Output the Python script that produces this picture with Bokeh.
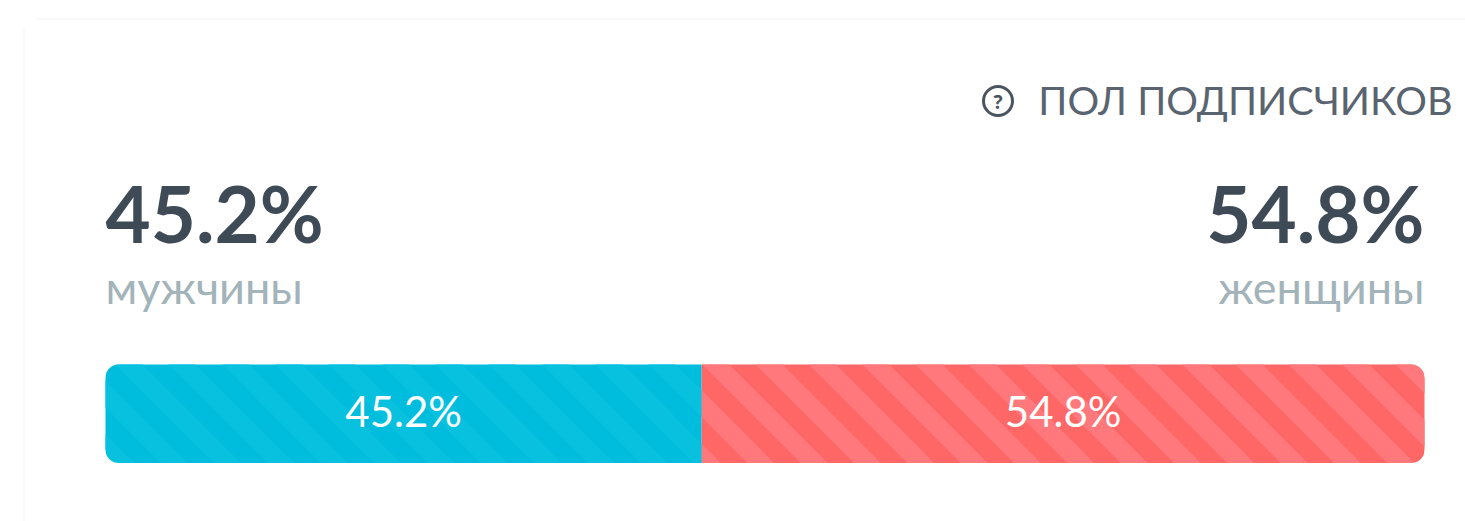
import numpy as np
from bokeh.plotting import figure
from bokeh.models import Range1d
from bokeh.core.properties import value
from bokeh.embed import file_html
from bokeh.resources import INLINE

title = "ПОЛ ПОДПИСЧИКОВ"
categories = ["мужчины", "женщины"]
shares = [45.2, 54.8]
base_colors = ["#00BCDD", "#FF6666"]
stripe_colors = ["#08C1DF", "#FF797C"]

W, H = 1465, 521
BAR_L, BAR_R, BAR_T, BAR_B = 105, 1424, 364, 462.5
K = (BAR_R - BAR_L) / 100.0


def px(x):
    return (np.asarray(x, dtype=float) - BAR_L) / K


p = figure(width=W, height=H, output_backend="svg", toolbar_location=None,
           x_range=Range1d(float(px(0)), float(px(W))),
           y_range=Range1d(H, 0),
           min_border=0, outline_line_color=None, background_fill_color="white")
p.axis.visible = False
p.grid.visible = False

# faint card border
p.segment(x0=[float(px(35))], x1=[float(px(W))], y0=[18.5], y1=[18.5], line_color="#F8F8F8", line_width=2)
p.segment(x0=[float(px(23.5))], x1=[float(px(23.5))], y0=[28], y1=[H], line_color="#F8F8F8", line_width=2)

# bars
left = np.concatenate([[0], np.cumsum(shares)[:-1]])
right = np.cumsum(shares)
p.quad(left=left, right=right, top=BAR_T, bottom=BAR_B, fill_color=base_colors, line_color=None)

# stripes, clipped to each segment
PERIOD, WIDTH, PHASE = 53.33, 27.0, 1235.0
H_BAR = BAR_B - BAR_T
for l, r, col in zip(left, right, stripe_colors):
    xl, xr = BAR_L + l * K, BAR_L + r * K
    xs, ys = [], []
    n0 = int(np.floor((xl - H_BAR - WIDTH - PHASE) / PERIOD))
    n1 = int(np.ceil((xr - PHASE) / PERIOD))
    for n in range(n0, n1 + 1):
        a = PHASE + n * PERIOD
        poly = [(a, BAR_T), (a + WIDTH, BAR_T), (a + WIDTH + H_BAR, BAR_B), (a + H_BAR, BAR_B)]
        for lim, keep in ((xl, lambda v: v >= xl), (xr, lambda v: v <= xr)):
            out = []
            for i in range(len(poly)):
                P, Q = poly[i], poly[(i + 1) % len(poly)]
                if keep(P[0]):
                    out.append(P)
                if keep(P[0]) != keep(Q[0]):
                    t = (lim - P[0]) / (Q[0] - P[0])
                    out.append((lim, P[1] + t * (Q[1] - P[1])))
            poly = out
            if not poly:
                break
        if poly:
            xs.append(px([q[0] for q in poly]).tolist())
            ys.append([q[1] for q in poly])
    p.patches(xs, ys, fill_color=col, line_color=None)

# rounded bar corners
R = 13.0
th = np.linspace(0, np.pi / 2, 12)
mx, my = [], []
for cx, cy, sx, sy in [(BAR_L + R, BAR_T + R, -1, -1), (BAR_R - R, BAR_T + R, 1, -1),
                       (BAR_L + R, BAR_B - R, -1, 1), (BAR_R - R, BAR_B - R, 1, 1)]:
    ax = cx + sx * R * np.cos(th)
    ay = cy + sy * R * np.sin(th)
    mx.append(px(np.concatenate([ax, [cx + sx * (R + 1)], [cx + sx * (R + 1)]])).tolist())
    my.append(np.concatenate([ay, [cy + sy * (R + 1)], [cy]]).tolist())
p.patches(mx, my, fill_color="white", line_color=None)

# bar labels
centers = (left + right) / 2
p.text(x=centers, y=[410, 410], text=[f"{s}%" for s in shares], text_color="#FFFFFF",
       text_font=value("Lato"), text_font_size="42px", text_align="center", text_baseline="middle")

# headline numbers and captions
p.text(x=[0, 100], y=[212, 212], text=[f"{s}%" for s in shares], text_color="#3E4A56",
       text_font=value("Lato"), text_font_size="78px", text_font_style="bold",
       text_align=["left", "right"], text_baseline="middle")
p.text(x=[0, 100], y=[286, 286], text=categories, text_color="#A3B3BA",
       text_font=value("Lato"), text_font_size="45px",
       text_align=["left", "right"], text_baseline="middle")

# title with help icon
p.text(x=[float(px(1452))], y=[99], text=[title], text_color="#5A6470",
       text_font=value("Lato"), text_font_size="39.6px",
       text_align="right", text_baseline="middle")
p.scatter(x=[float(px(997.5))], y=[100.5], size=29, marker="circle", fill_color=None,
          line_color="#4A5560", line_width=3)
p.text(x=[float(px(997.5))], y=[101], text=["?"], text_color="#4A5560",
       text_font=value("Noto Sans"), text_font_size="19px", text_font_style="bold",
       text_align="center", text_baseline="middle")

open("out.html", "w").write(file_html(p, INLINE))
